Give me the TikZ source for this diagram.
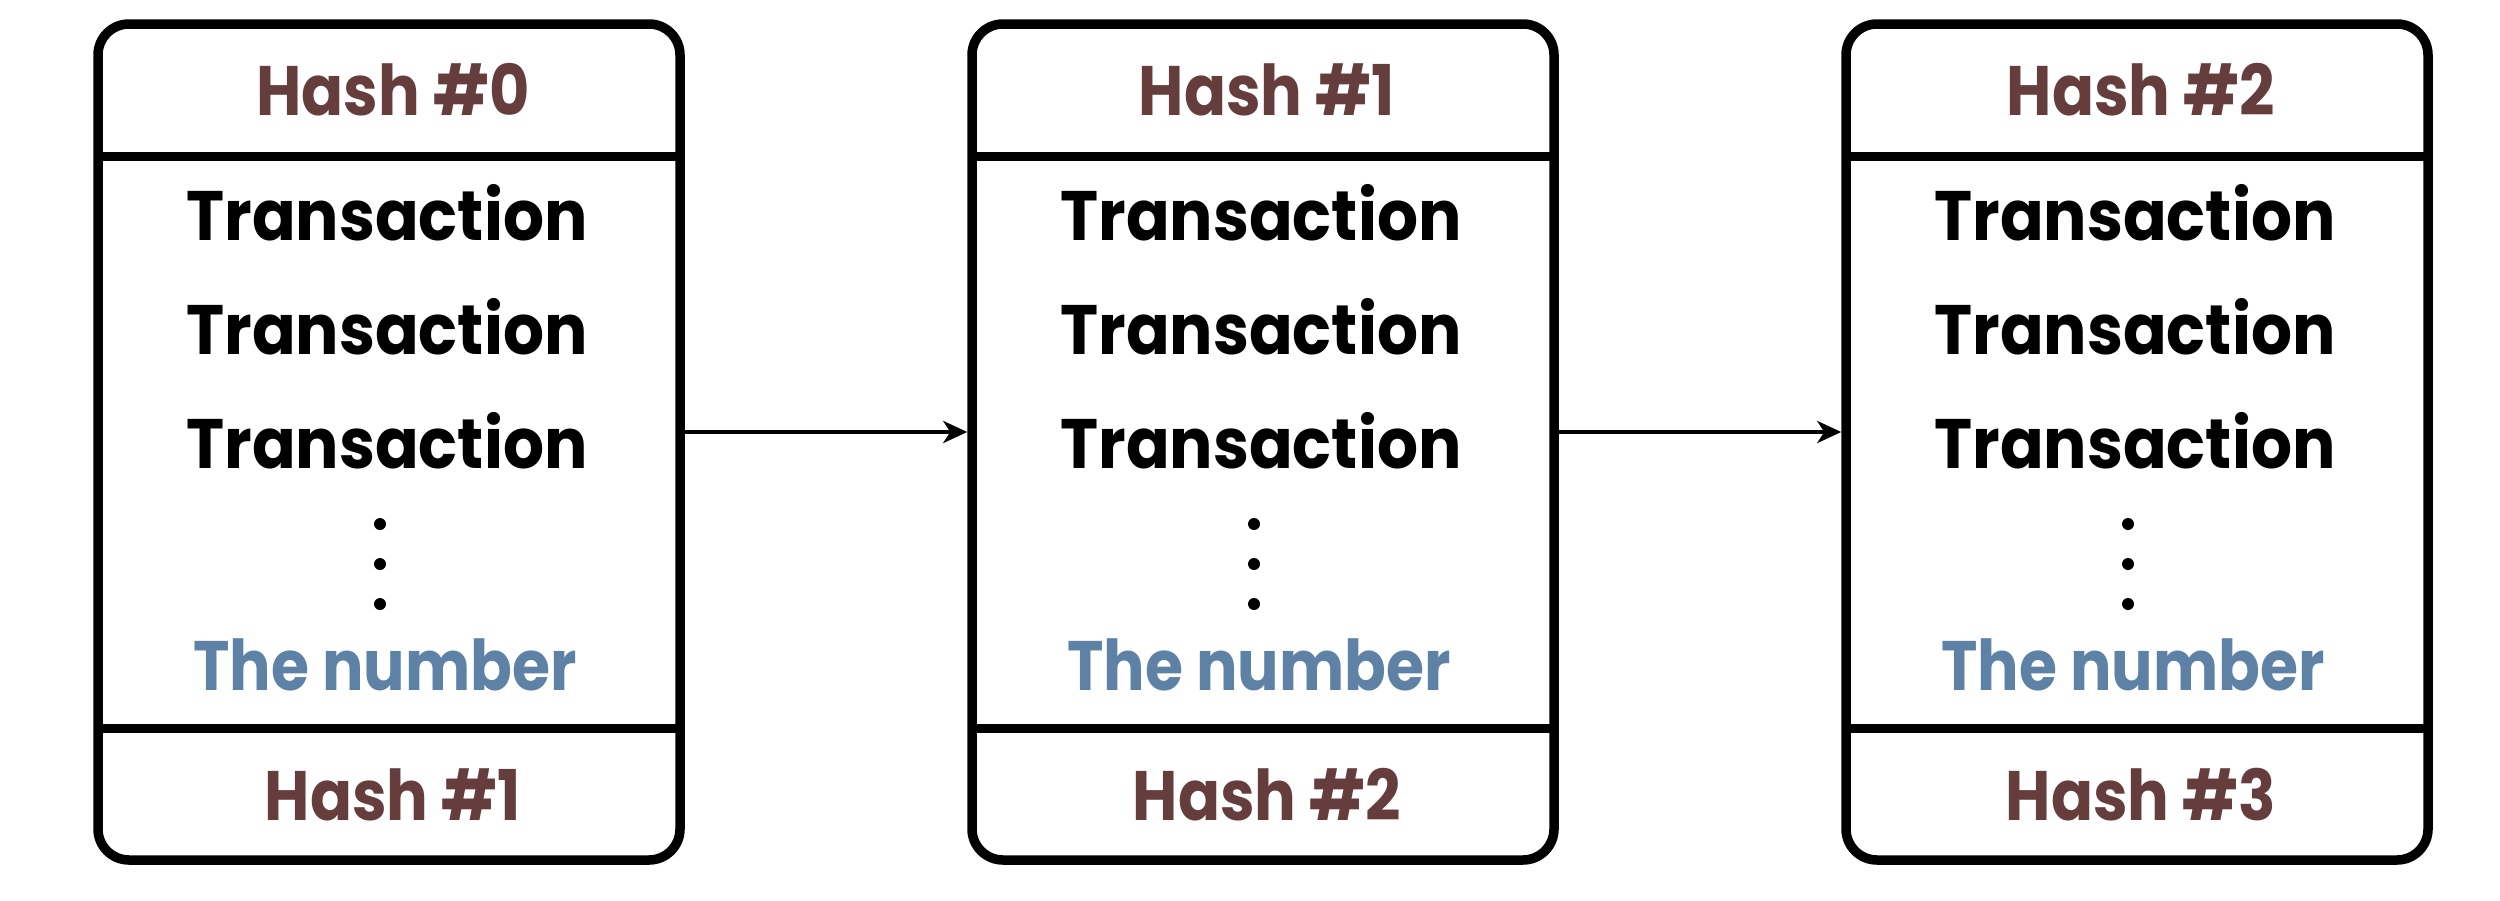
\documentclass[tikz,border=0pt]{standalone}
\usepackage{fontspec}
\setmainfont{Poppins}
\usetikzlibrary{arrows.meta}
\definecolor{hashcol}{RGB}{102,61,61}
\definecolor{numcol}{RGB}{94,130,166}
\newcommand{\narrowtxt}[2]{\scalebox{#1}[1]{#2}}
\begin{document}
\begin{tikzpicture}[x=1pt,y=-1pt,
  blockbox/.style={draw=black, line width=9.5pt, rounded corners=31pt,
    minimum width=582pt, minimum height=836pt, inner sep=0pt, outer sep=4.75pt},
  basetxt/.style={font=\fontsize{70}{70}\selectfont\bfseries, anchor=base, inner sep=0pt},
  hashtxt/.style={basetxt, text=hashcol},
  txtxt/.style={basetxt, text=black},
  numtxt/.style={basetxt, text=numcol},
  divline/.style={line width=9pt},
  dotmark/.style={circle, fill=black, minimum size=12pt, inner sep=0pt},
  link/.style={line width=4.8pt, -{Stealth[length=24pt,width=22pt,inset=7pt]}}]
\useasboundingbox (0,0) rectangle (2500,900);
\foreach \i/\a/\b in {0/0/1,1/1/2,2/2/3}{
  \pgfmathsetmacro{\cx}{389+874*\i}
  \node[blockbox] (b\i) at (\cx,442) {};
  \draw[divline] (\cx-291,156.5) -- (\cx+291,156.5);
  \draw[divline] (\cx-291,728) -- (\cx+291,728);
  \node[hashtxt] (h\i) at (\cx+4,115) {\narrowtxt{0.885}{Hash \#\a}};
  \node[txtxt] (t\i a) at (\cx-2,240) {\narrowtxt{0.92}{Transaction}};
  \node[txtxt] (t\i b) at (\cx-2,354) {\narrowtxt{0.92}{Transaction}};
  \node[txtxt] (t\i c) at (\cx-2,468) {\narrowtxt{0.92}{Transaction}};
  \node[dotmark] (d\i a) at (\cx-9,524) {};
  \node[dotmark] (d\i b) at (\cx-9,564) {};
  \node[dotmark] (d\i c) at (\cx-9,604) {};
  \node[numtxt] (n\i) at (\cx-4,690) {\narrowtxt{0.88}{The number}};
  \node[hashtxt] (f\i) at (\cx+4,820) {\narrowtxt{0.885}{Hash \#\b}};
}
\draw[link] (b0.east |- 0,432) -- (b1.west |- 0,432);
\draw[link] (b1.east |- 0,432) -- (b2.west |- 0,432);
\end{tikzpicture}
\end{document}
